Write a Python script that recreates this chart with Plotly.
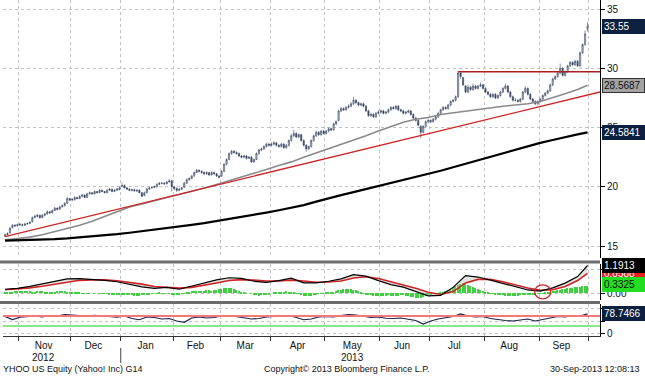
import pandas as pd
import plotly.graph_objects as go

# ---------------- data ----------------
holidays = ["2012-10-29", "2012-10-30", "2012-11-22", "2012-12-25", "2013-01-01",
            "2013-01-21", "2013-02-18", "2013-03-29", "2013-05-27", "2013-07-04",
            "2013-09-02"]

open_px = [
    15.85, 15.95, 16.1, 16.55, 16.75, 16.7,
    16.85, 16.8, 16.75, 16.85, 16.9, 17.05, 17.4, 17.5, 17.6, 17.4, 17.6, 17.7, 17.9, 17.8, 18.0, 18.2, 18.1, 18.3, 18.4, 18.6, 19.0,
    18.95, 18.9, 19.1, 19.0, 19.2, 19.3, 19.1, 19.4, 19.5, 19.4, 19.6, 19.5, 19.7, 19.6, 19.5, 19.7, 19.8, 19.6, 19.7, 19.75,
    20.05, 20.1, 19.9, 19.8, 19.7, 19.75, 19.65, 19.7, 19.5, 19.25, 19.5, 19.8, 19.9, 19.95, 20.0, 20.2, 20.3, 20.3, 20.25, 20.4, 20.5,
    20.0, 19.85, 19.7, 19.8, 19.95, 20.3, 20.6, 20.7, 20.9, 21.2, 21.4, 21.3, 21.2, 21.1, 21.2, 21.0, 21.2, 21.1, 20.9,
    20.9, 21.3, 21.9, 22.3, 22.8, 23.0, 22.9, 22.8, 22.6, 22.5, 22.6, 22.4, 22.5, 22.1, 22.3, 22.8, 23.1, 23.2, 23.4, 23.6,
    23.5, 23.6, 23.7, 23.5, 23.4, 23.6, 23.3, 23.5, 23.9, 24.3, 24.5, 24.2, 24.4, 23.9, 23.5, 23.2, 23.4, 23.9, 24.3, 24.6, 24.4, 24.7,
    24.5, 24.7, 24.9, 24.8, 25.3, 25.6, 26.4, 26.6, 26.5, 26.7, 26.8, 27.0, 27.3, 27.1, 26.9, 27.0, 26.8, 26.4, 26.0, 26.1, 25.9, 26.2,
    26.3, 26.4, 26.2, 26.3, 26.5, 26.7, 26.6, 26.8, 26.5, 26.4, 26.2, 26.3, 26.4, 26.1, 25.8, 25.6, 25.1, 24.6, 25.1, 25.5,
    25.6, 25.5, 25.7, 25.9, 26.2, 26.5, 26.7, 26.6, 26.9, 27.2, 27.3, 27.6, 29.6, 29.2, 28.5, 28.0, 28.4, 28.2, 28.5, 28.3, 28.5, 28.6,
    28.3, 28.0, 27.8, 27.6, 27.8, 27.5, 27.7, 28.0, 28.3, 28.5, 28.0, 27.6, 27.3, 27.3, 27.2, 27.4, 28.0, 28.3, 27.8, 27.4, 27.2, 27.0,
    27.2, 27.4, 27.7, 27.9, 28.1, 28.6, 29.1, 29.3, 29.6, 30.0, 29.4, 29.7, 30.2, 30.5, 30.3, 30.6, 30.2, 31.3, 32.0, 33.3,
]
high_px = [
    16.05, 16.15, 16.6, 16.85, 16.85, 16.9,
    16.95, 16.9, 16.95, 17.0, 17.1, 17.5, 17.65, 17.7, 17.65, 17.7, 17.8, 18.0, 17.95, 18.1, 18.3, 18.25, 18.4, 18.5, 18.7, 19.15, 19.05,
    19.05, 19.2, 19.15, 19.3, 19.4, 19.35, 19.5, 19.6, 19.55, 19.7, 19.65, 19.8, 19.75, 19.65, 19.8, 19.9, 19.85, 19.8, 19.9, 20.0,
    20.35, 20.2, 20.0, 19.9, 19.85, 19.85, 19.8, 19.8, 19.55, 19.6, 19.9, 20.0, 20.05, 20.1, 20.3, 20.4, 20.4, 20.4, 20.5, 20.65, 20.6,
    20.05, 19.95, 19.9, 20.0, 20.4, 20.7, 20.8, 21.0, 21.3, 21.5, 21.45, 21.4, 21.3, 21.3, 21.25, 21.3, 21.3, 21.15, 21.0,
    21.4, 22.0, 22.4, 22.9, 23.1, 23.1, 23.0, 22.9, 22.7, 22.7, 22.7, 22.6, 22.6, 22.4, 22.9, 23.2, 23.3, 23.5, 23.7, 23.7,
    23.75, 23.85, 23.8, 23.6, 23.7, 23.7, 23.6, 24.0, 24.45, 24.8, 24.6, 24.5, 24.45, 24.0, 23.6, 23.5, 24.0, 24.4, 24.75, 24.7, 24.8, 24.8,
    24.8, 25.0, 25.0, 25.4, 25.6, 26.5, 26.75, 26.7, 26.8, 26.95, 27.15, 27.6, 27.4, 27.2, 27.1, 27.1, 26.9, 26.5, 26.25, 26.2, 26.3, 26.45,
    26.5, 26.5, 26.4, 26.6, 26.8, 26.8, 26.9, 26.9, 26.6, 26.5, 26.4, 26.5, 26.5, 26.2, 25.9, 25.7, 25.2, 25.2, 25.6, 25.75,
    25.7, 25.8, 26.0, 26.3, 26.6, 26.8, 26.8, 27.0, 27.3, 27.4, 27.7, 29.75, 29.7, 29.3, 28.6, 28.6, 28.5, 28.7, 28.6, 28.6, 28.8, 28.7,
    28.4, 28.1, 27.9, 27.9, 27.9, 27.8, 28.1, 28.4, 28.7, 28.6, 28.1, 27.7, 27.5, 27.4, 27.5, 28.1, 28.5, 28.4, 27.9, 27.5, 27.3, 27.3,
    27.5, 27.8, 28.0, 28.2, 28.7, 29.2, 29.4, 29.7, 30.4, 30.1, 29.8, 30.3, 30.6, 30.6, 30.7, 30.7, 31.4, 32.1, 33.2, 33.9,
]
low_px = [
    15.8, 15.9, 16.05, 16.5, 16.6, 16.65,
    16.7, 16.65, 16.7, 16.8, 16.85, 17.0, 17.35, 17.4, 17.3, 17.35, 17.5, 17.65, 17.7, 17.75, 17.95, 18.0, 18.05, 18.25, 18.35, 18.55, 18.8,
    18.8, 18.85, 18.95, 18.95, 19.1, 19.05, 19.05, 19.35, 19.35, 19.35, 19.45, 19.45, 19.55, 19.45, 19.45, 19.65, 19.55, 19.55, 19.65, 19.7,
    19.95, 19.85, 19.75, 19.65, 19.6, 19.6, 19.55, 19.45, 19.15, 19.2, 19.45, 19.75, 19.85, 19.9, 19.95, 20.15, 20.2, 20.15, 20.2, 20.35, 19.6,
    19.7, 19.55, 19.65, 19.75, 19.9, 20.25, 20.5, 20.65, 20.85, 21.15, 21.2, 21.1, 21.0, 21.0, 20.9, 20.95, 21.0, 20.85, 20.7,
    20.85, 21.25, 21.8, 22.25, 22.7, 22.8, 22.7, 22.5, 22.4, 22.4, 22.3, 22.35, 22.0, 22.0, 22.25, 22.7, 23.0, 23.1, 23.3, 23.4,
    23.4, 23.5, 23.4, 23.3, 23.3, 23.2, 23.2, 23.4, 23.8, 24.2, 24.1, 24.1, 23.8, 23.4, 22.95, 23.1, 23.3, 23.8, 24.2, 24.3, 24.3, 24.4,
    24.4, 24.6, 24.7, 24.75, 25.2, 25.5, 26.3, 26.4, 26.4, 26.6, 26.7, 26.9, 27.0, 26.8, 26.8, 26.7, 26.3, 25.9, 25.9, 25.8, 25.8, 26.1,
    26.15, 26.1, 26.1, 26.2, 26.4, 26.5, 26.5, 26.4, 26.3, 26.1, 26.1, 26.2, 26.0, 25.7, 25.5, 25.1, 24.1, 24.5, 25.0, 25.35,
    25.35, 25.4, 25.6, 25.8, 26.1, 26.4, 26.5, 26.5, 26.8, 27.1, 27.2, 27.5, 29.1, 28.5, 27.9, 27.9, 28.1, 28.1, 28.2, 28.2, 28.4, 28.2,
    27.9, 27.7, 27.5, 27.5, 27.4, 27.4, 27.6, 27.9, 28.2, 27.9, 27.5, 27.2, 27.2, 27.1, 27.1, 27.3, 27.9, 27.7, 27.3, 27.1, 26.9, 26.9,
    27.1, 27.3, 27.6, 27.8, 28.0, 28.5, 29.0, 29.2, 29.5, 29.3, 29.3, 29.6, 30.1, 30.2, 30.2, 30.1, 30.1, 31.2, 31.9, 33.1,
]
close_px = [
    15.95, 16.05, 16.5, 16.75, 16.7, 16.8,
    16.8, 16.75, 16.85, 16.9, 17.0, 17.4, 17.5, 17.6, 17.4, 17.6, 17.7, 17.9, 17.8, 18.0, 18.2, 18.1, 18.3, 18.4, 18.6, 19.0, 18.9,
    18.9, 19.1, 19.0, 19.2, 19.3, 19.1, 19.4, 19.5, 19.4, 19.6, 19.5, 19.7, 19.6, 19.5, 19.7, 19.8, 19.6, 19.7, 19.8, 19.9,
    20.1, 19.9, 19.8, 19.7, 19.75, 19.65, 19.7, 19.5, 19.2, 19.5, 19.8, 19.9, 19.95, 20.0, 20.2, 20.3, 20.3, 20.25, 20.4, 20.5, 20.0,
    19.85, 19.7, 19.8, 19.9, 20.3, 20.6, 20.7, 20.9, 21.2, 21.4, 21.3, 21.2, 21.1, 21.2, 21.0, 21.2, 21.1, 20.9, 20.8,
    21.3, 21.9, 22.3, 22.8, 23.0, 22.9, 22.8, 22.6, 22.5, 22.6, 22.4, 22.5, 22.1, 22.3, 22.8, 23.1, 23.2, 23.4, 23.6, 23.5,
    23.6, 23.7, 23.5, 23.4, 23.6, 23.3, 23.5, 23.9, 24.3, 24.5, 24.2, 24.4, 23.9, 23.5, 23.2, 23.4, 23.9, 24.3, 24.6, 24.4, 24.7, 24.5,
    24.7, 24.9, 24.8, 25.3, 25.5, 26.4, 26.6, 26.5, 26.7, 26.8, 27.0, 27.3, 27.1, 26.9, 27.0, 26.8, 26.4, 26.0, 26.1, 25.9, 26.2, 26.3,
    26.4, 26.2, 26.3, 26.5, 26.7, 26.6, 26.8, 26.5, 26.4, 26.2, 26.3, 26.4, 26.1, 25.8, 25.6, 25.2, 24.6, 25.1, 25.5, 25.6,
    25.5, 25.7, 25.9, 26.2, 26.5, 26.7, 26.6, 26.9, 27.2, 27.3, 27.6, 29.6, 29.3, 28.6, 28.0, 28.4, 28.2, 28.5, 28.3, 28.5, 28.6, 28.3,
    28.0, 27.8, 27.6, 27.8, 27.5, 27.7, 28.0, 28.3, 28.5, 28.0, 27.6, 27.3, 27.3, 27.2, 27.4, 28.0, 28.3, 27.8, 27.4, 27.2, 27.0, 27.2,
    27.4, 27.7, 27.9, 28.1, 28.6, 29.1, 29.3, 29.6, 30.0, 29.4, 29.7, 30.2, 30.5, 30.3, 30.6, 30.2, 31.3, 32.0, 32.9, 33.55,
]

# moving averages, read every 5th trading day (+ last day)
ma_gray = [15.5, 15.6, 15.75, 15.95, 16.2, 16.45, 16.75, 17.1, 17.5, 17.95,
           18.3, 18.55, 18.85, 19.1, 19.35, 19.6, 19.9, 20.2, 20.5, 20.85,
           21.15, 21.45, 21.8, 22.1, 22.5, 22.85, 23.2, 23.6, 23.95, 24.3,
           24.7, 25.05, 25.45, 25.7, 25.85, 26.1, 26.25, 26.4, 26.55, 26.7,
           26.8, 26.9, 27.0, 27.2, 27.5, 27.85, 28.2, 28.5687]
ma_black = [15.45, 15.47, 15.5, 15.53, 15.58, 15.64, 15.72, 15.8, 15.9, 16.0,
            16.12, 16.24, 16.37, 16.5, 16.63, 16.78, 16.93, 17.1, 17.27, 17.45,
            17.63, 17.82, 18.02, 18.22, 18.45, 18.75, 19.05, 19.3, 19.55, 19.8,
            20.05, 20.3, 20.55, 20.8, 21.05, 21.35, 21.65, 21.95, 22.25, 22.55,
            22.85, 23.15, 23.45, 23.7, 23.95, 24.2, 24.42, 24.5841]
trend_line = [15.8, 28.0]      # rising red trend line (start, right edge)
resistance = 29.7              # horizontal red line from the July gap

# MACD panel (every 5th trading day + last)
macd = [0.18, 0.22, 0.30, 0.40, 0.52, 0.62, 0.63, 0.60, 0.56, 0.50,
        0.40, 0.28, 0.22, 0.26, 0.18, 0.32, 0.45, 0.58, 0.67, 0.64,
        0.52, 0.47, 0.55, 0.65, 0.45, 0.45, 0.52, 0.62, 0.80, 0.74,
        0.55, 0.38, 0.27, 0.10, -0.10, -0.08, 0.26, 0.76, 0.70, 0.57,
        0.42, 0.28, 0.15, 0.10, 0.24, 0.44, 0.72, 1.1913]
signal = [0.16, 0.19, 0.24, 0.31, 0.40, 0.50, 0.56, 0.58, 0.58, 0.54,
          0.48, 0.40, 0.30, 0.26, 0.23, 0.26, 0.34, 0.45, 0.55, 0.59,
          0.57, 0.53, 0.53, 0.57, 0.53, 0.48, 0.49, 0.53, 0.66, 0.71,
          0.64, 0.50, 0.38, 0.22, 0.05, -0.04, 0.08, 0.45, 0.60, 0.60,
          0.50, 0.36, 0.23, 0.14, 0.16, 0.30, 0.55, 0.8588]
hist = [0.03, 0.05, 0.06, 0.08, 0.09, 0.1, 0.11, 0.11, 0.1, 0.09,
        0.09, 0.08, 0.08, 0.09, 0.1, 0.09, 0.08, 0.08, 0.07, 0.07,
        0.08, 0.09, 0.1, 0.1, 0.09, 0.08, 0.06, 0.05, 0.04, 0.03,
        0.03, 0.02, 0.02, 0.01, 0.01, 0.0, 0.01, 0.0, -0.01, -0.01,
        -0.02, -0.02, -0.03, -0.04, -0.04, -0.05, -0.05, -0.04, -0.05, -0.06,
        -0.07, -0.08, -0.1, -0.1, -0.09, -0.08, -0.07, -0.05, -0.03, -0.02,
        0.0, 0.02, 0.03, 0.02, 0.01, 0.0, -0.02, -0.03, -0.04, -0.05,
        -0.04, -0.02, 0.02, 0.05, 0.07, 0.09, 0.1, 0.11, 0.12, 0.12,
        0.12, 0.13, 0.13, 0.12, 0.14, 0.16, 0.18, 0.2, 0.22, 0.24,
        0.24, 0.22, 0.2, 0.16, 0.12, 0.08, 0.05, 0.02, 0.0, -0.02,
        -0.05, -0.07, -0.09, -0.08, -0.07, -0.05, -0.03, 0.0, 0.03, 0.05,
        0.06, 0.07, 0.08, 0.09, 0.08, 0.07, 0.05, 0.02, -0.02, -0.06,
        -0.09, -0.11, -0.12, -0.1, -0.08, -0.05, -0.02, 0.01, 0.02, 0.03,
        0.04, 0.05, 0.07, 0.1, 0.13, 0.16, 0.18, 0.2, 0.19, 0.18,
        0.16, 0.13, 0.09, 0.05, 0.01, -0.03, -0.06, -0.08, -0.09, -0.1,
        -0.1, -0.1, -0.09, -0.09, -0.08, -0.09, -0.1, -0.1, -0.09, -0.08,
        -0.08, -0.09, -0.11, -0.14, -0.17, -0.2, -0.21, -0.19, -0.16, -0.12,
        -0.08, -0.04, -0.02, 0.0, 0.02, 0.04, 0.06, 0.09, 0.14, 0.2,
        0.26, 0.32, 0.38, 0.42, 0.43, 0.4, 0.36, 0.32, 0.28, 0.24,
        0.2, 0.16, 0.12, 0.08, 0.04, 0.01, -0.02, -0.04, -0.06, -0.07,
        -0.08, -0.09, -0.1, -0.1, -0.1, -0.09, -0.09, -0.08, -0.08, -0.07,
        -0.06, -0.05, -0.04, -0.03, -0.02, -0.01, 0.01, 0.03, 0.05, 0.08,
        0.1, 0.12, 0.14, 0.16, 0.18, 0.2, 0.22, 0.24, 0.25, 0.26,
        0.27, 0.28, 0.3, 0.31, 0.3325]

# RSI, read every 3rd trading day
rsi = [68, 56, 65, 68, 70, 66, 72, 70, 76, 74,
       72, 70, 73, 71, 68, 65, 70, 60, 55, 66,
       64, 58, 60, 50, 45, 62, 66, 62, 64, 70,
       72, 68, 62, 58, 60, 66, 68, 70, 72, 64,
       55, 58, 66, 68, 66, 72, 76, 74, 70, 64,
       66, 61, 60, 62, 57, 52, 38, 50, 58, 62,
       68, 78, 70, 66, 68, 60, 55, 52, 50, 55,
       58, 50, 56, 62, 68, 66, 72, 70, 78.7466]
rsi_levels = [70, 30]

month_mid = ["2012-11-15", "2012-12-14", "2013-01-16", "2013-02-14", "2013-03-15",
             "2013-04-16", "2013-05-16", "2013-06-14", "2013-07-16", "2013-08-15",
             "2013-09-16"]
month_names = ["Nov", "Dec", "Jan", "Feb", "Mar", "Apr", "May", "Jun", "Jul", "Aug", "Sep"]
month_starts = ["2012-11-01", "2012-12-03", "2013-01-02", "2013-02-01", "2013-03-01",
                "2013-04-01", "2013-05-01", "2013-06-03", "2013-07-01", "2013-08-01",
                "2013-09-03", "2013-10-01"]

# ---------------- figure ----------------
dates = pd.bdate_range("2012-10-22", "2013-09-30", freq="C", holidays=holidays)
x = list(dates + pd.Timedelta(hours=12))
n = len(x)
line_idx = list(range(0, n, 5)) + [n - 1]
x_line = [x[i] for i in line_idx]
x_rsi = [x[i] for i in range(0, n, 3)]

X_START = "2012-10-19 17:00"
X_END = "2013-10-07 12:00"

FONT = "Liberation Sans, Arial, sans-serif"
NAVY = "#0e2040"
RED = "#d02424"

fig = go.Figure()

fig.add_trace(go.Candlestick(
    x=x, open=open_px, high=high_px, low=low_px, close=close_px,
    increasing=dict(line=dict(color="#2a3854", width=0.55), fillcolor="#bcc7d7"),
    decreasing=dict(line=dict(color="#2a3854", width=0.55), fillcolor="#4b5a74"),
    whiskerwidth=0, xaxis="x", yaxis="y", hoverinfo="skip"))
fig.add_trace(go.Scatter(x=x_line, y=ma_gray, mode="lines",
                         line=dict(color="#8a8a8a", width=1.6), yaxis="y"))
fig.add_trace(go.Scatter(x=x_line, y=ma_black, mode="lines",
                         line=dict(color="#000000", width=2.2), yaxis="y"))
fig.add_trace(go.Scatter(x=[x[0], X_END], y=trend_line, mode="lines",
                         line=dict(color=RED, width=1.3), yaxis="y"))
fig.add_trace(go.Scatter(x=[x[182], X_END], y=[resistance, resistance], mode="lines",
                         line=dict(color="#a82020", width=1.4), yaxis="y"))

# MACD
fig.add_trace(go.Scatter(x=x_line, y=signal, mode="lines", line=dict(width=0),
                         yaxis="y2", hoverinfo="skip"))
fig.add_trace(go.Scatter(x=x_line, y=macd, mode="lines", line=dict(width=0),
                         fill="tonexty", fillcolor="rgba(185,185,185,0.4)",
                         yaxis="y2", hoverinfo="skip"))
fig.add_trace(go.Bar(x=x, y=hist, marker=dict(color="#3fd03f", line=dict(width=0)),
                     width=0.55 * 86400000, yaxis="y2"))
fig.add_trace(go.Scatter(x=x_line, y=signal, mode="lines",
                         line=dict(color=RED, width=1.6), yaxis="y2"))
fig.add_trace(go.Scatter(x=x_line, y=macd, mode="lines",
                         line=dict(color="#000000", width=1.2), yaxis="y2"))

# RSI
fig.add_trace(go.Scatter(x=x_rsi, y=rsi, mode="lines",
                         line=dict(color="#1a1f4e", width=1.2), yaxis="y3"))

H = 336.0  # plot-area height in px
def py(px):
    return (H - px) / H

grid = dict(showgrid=True, gridcolor="#c2c2c2", griddash="dot", gridwidth=1)
yax_common = dict(side="right", anchor="x", showline=True, linecolor="#000000",
                  linewidth=1, ticks="outside", ticklen=4, tickcolor="#000000",
                  zeroline=False, automargin=False,
                  tickfont=dict(family=FONT, size=10, color="#111111"),
                  **grid)

fig.update_layout(
    width=645, height=376, autosize=False,
    margin=dict(l=3, r=45, t=0, b=40, autoexpand=False),
    paper_bgcolor="white", plot_bgcolor="white",
    showlegend=False, bargap=0,
    font=dict(family=FONT, size=10, color="#111111"),
    xaxis=dict(
        type="date", range=[X_START, X_END], anchor="y3", automargin=False,
        rangebreaks=[dict(bounds=["sat", "mon"]), dict(values=holidays)],
        rangeslider=dict(visible=False),
        tickvals=month_mid, ticktext=month_names, ticks="", showgrid=False,
        tickfont=dict(family=FONT, size=10, color="#111111"),
        showline=True, linecolor="#333333", linewidth=1,
        minor=dict(tickvals=month_starts, ticks="outside", ticklen=4,
                   tickcolor="#333333", showgrid=True, gridcolor="#c2c2c2",
                   griddash="dot"),
    ),
    yaxis=dict(domain=[py(258), 1.0], range=[13.99, 35.76],
               tickvals=[15, 20, 25, 30, 35], **yax_common),
    yaxis2=dict(domain=[py(300), py(264)], range=[-0.277, 1.255],
                tickvals=[0, 1], ticktext=["0.00", "1.00"], **yax_common),
    yaxis3=dict(domain=[0, py(304)], range=[-10, 118],
                tickvals=[0, 50, 100], ticktext=["0", "", ""], **yax_common),
)

shapes = []
for yy in (py(262), py(302.5)):
    shapes.append(dict(type="line", xref="paper", yref="paper", x0=-0.006, x1=1.0,
                       y0=yy, y1=yy, line=dict(color="#6c6c6c", width=3)))
shapes.append(dict(type="line", xref="paper", yref="y3", x0=0, x1=1,
                   y0=rsi_levels[0], y1=rsi_levels[0], line=dict(color="#ee7a7a", width=2)))
shapes.append(dict(type="line", xref="paper", yref="y3", x0=0, x1=1,
                   y0=rsi_levels[1], y1=rsi_levels[1], line=dict(color="#86e886", width=2)))
shapes.append(dict(type="circle", xref="x", yref="y2",
                   x0="2013-08-29 06:00", x1="2013-09-09 18:00", y0=-0.23, y1=0.37,
                   line=dict(color=RED, width=1.3)))
shapes.append(dict(type="line", xref="x", yref="paper", x0="2013-01-02", x1="2013-01-02",
                   y0=py(348), y1=py(363), line=dict(color="#444444", width=1)))
fig.update_layout(shapes=shapes)

ann = []
def tag(text, yref, yval, bg, fg, border=None):
    ann.append(dict(text=text, xref="paper", x=1.0, xanchor="left", xshift=2,
                    yref=yref, y=yval, yanchor="middle", showarrow=False,
                    bgcolor=bg, bordercolor=border or bg, borderwidth=1, borderpad=1,
                    width=39, align="left",
                    font=dict(family=FONT, size=10, color=fg)))

tag("33.55", "y", close_px[-1], NAVY, "white")
tag("28.5687", "y", ma_gray[-1], "#a3a3a3", "#111111", border="#333333")
tag("24.5841", "y", ma_black[-1], NAVY, "white")
tag("0.8588", "y2", signal[-1], "#e42020", "white")
tag("1.1913", "y2", macd[-1] + 0.02, "#000000", "white")
tag("0.3325", "y2", hist[-1] + 0.06, "#22dd22", "#111111")
tag("78.7466", "y3", rsi[-1], NAVY, "white")

txt = dict(family=FONT, size=10, color="#111111")
ann.append(dict(text="2012", xref="x", x="2012-11-15", yref="paper", y=py(357),
                yanchor="middle", showarrow=False, font=txt))
ann.append(dict(text="2013", xref="x", x="2013-05-16", yref="paper", y=py(357),
                yanchor="middle", showarrow=False, font=txt))
foot = dict(family=FONT, size=9, color="#111111")
ann.append(dict(text="YHOO US Equity (Yahoo! Inc) G14", xref="paper", x=-0.004,
                xanchor="left", yref="paper", y=py(369), yanchor="middle",
                showarrow=False, font=foot))
ann.append(dict(text="Copyright\u00a9 2013 Bloomberg Finance L.P.", xref="paper", x=0.576,
                xanchor="center", yref="paper", y=py(369), yanchor="middle",
                showarrow=False, font=foot))
ann.append(dict(text="30-Sep-2013 12:08:13", xref="paper", x=1.07,
                xanchor="right", yref="paper", y=py(369), yanchor="middle",
                showarrow=False, font=foot))
fig.update_layout(annotations=ann)

fig.write_html("out.html",
               config={"displayModeBar": False},
               post_script="document.body.style.margin='0px';"
                           "document.body.style.overflow='hidden';")
